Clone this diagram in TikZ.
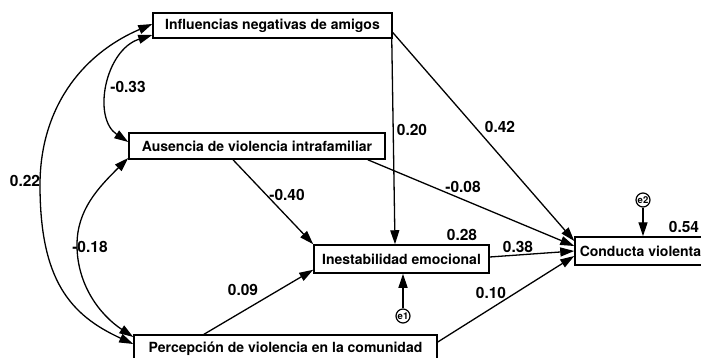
\documentclass[tikz,border=0pt]{standalone}
\usepackage{fontspec}
\setmainfont{TeX Gyre Heros}
\usetikzlibrary{arrows.meta,calc}
\begin{document}
\begin{tikzpicture}[x=1pt,y=-1pt,
  box/.style={draw, line width=1.5pt, font=\fontsize{14}{16}\selectfont\bfseries, inner sep=0pt, anchor=center},
  lbl/.style={font=\fontsize{15.5}{18}\selectfont\bfseries, inner sep=0pt},
  err/.style={draw, circle, line width=1.2pt, minimum size=14pt, inner sep=0pt, font=\fontsize{9.5}{10}\selectfont\bfseries},
  arr/.style={-{Triangle[length=14pt,width=9pt]}, line width=1.3pt},
  cov/.style={{Triangle[length=14pt,width=9pt]}-{Triangle[length=14pt,width=9pt]}, line width=1.3pt}]
\useasboundingbox (0,0) rectangle (701,358);
% boxes
\node[box, minimum width=239pt, minimum height=25pt] (infl) at (272.5,25.5) {Influencias negativas de amigos};
\node[box, minimum width=256pt, minimum height=26pt] (aus) at (257,146) {Ausencia de violencia intrafamiliar};
\node[box, minimum width=175pt, minimum height=28pt] (inest) at (401.5,259) {Inestabilidad emocional};
\node[box, minimum width=131pt, minimum height=28pt] (cond) at (640.5,251) {Conducta violenta};
\node[box, minimum width=303pt, minimum height=28pt] (perc) at (285.5,349) {Percepción de violencia en la comunidad};
\node[err] (e1) at (403,316) {e1};
\node[err] (e2) at (643,200) {e2};
% directed paths
\draw[arr] ([xshift=-1pt]infl.south east) -- ([xshift=-6.5pt]inest.north);
\draw[arr] ([yshift=-7pt]infl.east) -- ([yshift=10pt]cond.west);
\draw[arr] ([xshift=-24pt]aus.south) -- (inest.north west);
\draw[arr] ([xshift=-18pt]aus.south east) -- ([yshift=5pt]cond.west);
\draw[arr] ([yshift=2pt]inest.east) -- (cond.west);
\draw[arr] ([xshift=-81.5pt]perc.north) -- ([yshift=4pt]inest.south west);
\draw[arr] ([yshift=7pt]perc.east) -- ([yshift=-5pt]cond.west);
\draw[arr] (e1) -- (e1 |- inest.south);
\draw[arr] (e2) -- (e2 |- cond.north);
% covariances
\draw[cov] ([yshift=-9.5pt]infl.west) .. controls (105,50) and (92,118) .. ([yshift=4pt]aus.west);
\draw[cov] ([yshift=1.5pt]infl.west) .. controls (80,55) and (40,110) .. (40,185) .. controls (40,280) and (70,315) .. ([yshift=5pt]perc.west);
\draw[cov] ([yshift=-12pt]aus.west) .. controls (98,188) and (77,210) .. (77,245) .. controls (77,285) and (100,315) .. ([yshift=12pt]perc.west);
% labels
\node[lbl] (l1) at (128,87) {-0.33};
\node[lbl] (l2) at (25,181) {0.22};
\node[lbl] (l3) at (90,247) {-0.18};
\node[lbl] (l4) at (412,130) {0.20};
\node[lbl] (l5) at (500,127) {0.42};
\node[lbl] (l6) at (287,195) {-0.40};
\node[lbl] (l7) at (463,187) {-0.08};
\node[lbl] (l8) at (462,235) {0.28};
\node[lbl] (l9) at (518,247) {0.38};
\node[lbl] (l10) at (491,293) {0.10};
\node[lbl] (l11) at (243,290) {0.09};
\node[lbl] (l12) at (684,227) {0.54};
\end{tikzpicture}
\end{document}
